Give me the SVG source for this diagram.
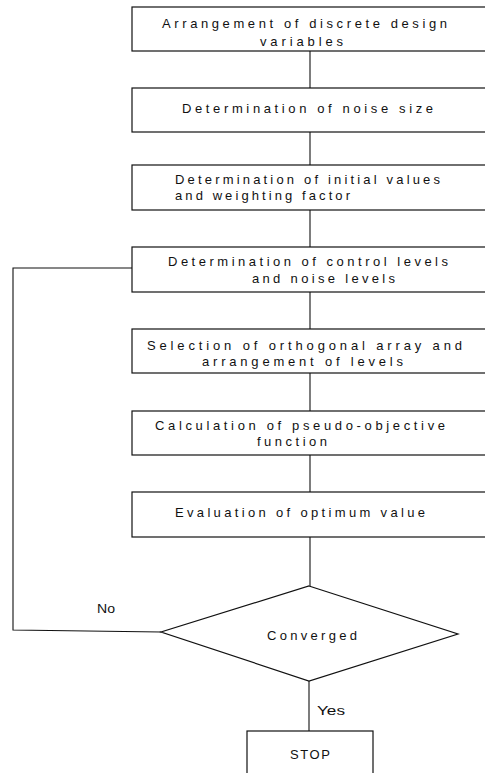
<svg xmlns="http://www.w3.org/2000/svg" width="485" height="773" viewBox="0 0 485 773">
<style>
.box{fill:none;stroke:#111;stroke-width:1.2}
.ln{fill:none;stroke:#111;stroke-width:1.1}
text{font-family:"Liberation Sans",Arial,sans-serif;font-size:13px;fill:#111}
</style>
<rect width="485" height="773" fill="#fff"/>
<g id="connectors">
<line class="ln" x1="310" y1="51" x2="310" y2="88"/>
<line class="ln" x1="310" y1="132" x2="310" y2="165"/>
<line class="ln" x1="310" y1="210" x2="310" y2="247"/>
<line class="ln" x1="310" y1="292" x2="310" y2="329"/>
<line class="ln" x1="310" y1="373" x2="310" y2="411"/>
<line class="ln" x1="310" y1="455" x2="310" y2="492"/>
<line class="ln" x1="310" y1="537" x2="310" y2="586"/>
<line class="ln" x1="309" y1="681" x2="309" y2="731"/>
<polyline class="ln" points="161,632 13,630 13,268 132,268"/>
<text x="97" y="613" textLength="18" lengthAdjust="spacingAndGlyphs">No</text>
<text x="317" y="715" textLength="28" lengthAdjust="spacingAndGlyphs">Yes</text>
</g>
<g id="n1">
<rect class="box" x="132" y="7" width="360" height="44"/>
<text x="162" y="28" textLength="285">Arrangement of discrete design</text>
<text x="260" y="46" textLength="83">variables</text>
</g>
<g id="n2">
<rect class="box" x="132" y="88" width="360" height="44"/>
<text x="182" y="113" textLength="251">Determination of noise size</text>
</g>
<g id="n3">
<rect class="box" x="132" y="165" width="360" height="45"/>
<text x="175" y="184" textLength="265">Determination of initial values</text>
<text x="175" y="200" textLength="175">and weighting factor</text>
</g>
<g id="n4">
<rect class="box" x="132" y="247" width="360" height="45"/>
<text x="168" y="266" textLength="280">Determination of control levels</text>
<text x="252" y="283" textLength="143">and noise levels</text>
</g>
<g id="n5">
<rect class="box" x="132" y="329" width="360" height="44"/>
<text x="147" y="350" textLength="315">Selection of orthogonal array and</text>
<text x="202" y="366" textLength="201">arrangement of levels</text>
</g>
<g id="n6">
<rect class="box" x="132" y="411" width="360" height="44"/>
<text x="155" y="430" textLength="290">Calculation of pseudo-objective</text>
<text x="257" y="446" textLength="70">function</text>
</g>
<g id="n7">
<rect class="box" x="132" y="492" width="360" height="45"/>
<text x="175" y="517" textLength="250">Evaluation of optimum value</text>
</g>
<g id="n8">
<polygon class="box" points="309,586 458,634 309,681 161,632"/>
<text x="267" y="640" textLength="90">Converged</text>
</g>
<g id="n9">
<rect class="box" x="247" y="731" width="126" height="60"/>
<text x="290" y="759" textLength="40">STOP</text>
</g>
</svg>
